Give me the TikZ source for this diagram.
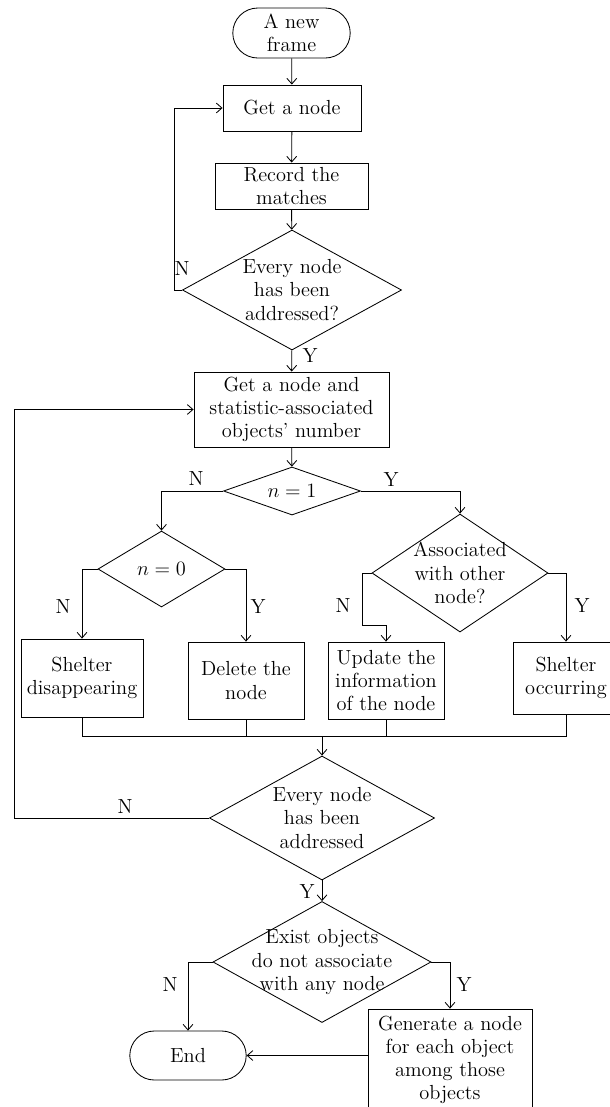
\RequirePackage{fix-cm}
\documentclass[tikz,border=0pt]{standalone}
\usetikzlibrary{shapes.geometric, shapes.misc, arrows.meta}

\begin{document}
\begin{tikzpicture}[
    x=0.025cm, y=-0.025cm,
    >={Straight Barb[length=4pt,width=7pt]},
    line width=0.6pt,
    every node/.style={align=center, font=\fontsize{14.5}{16.5}\selectfont},
    terminal/.style={draw, rounded rectangle, inner sep=2pt},
    caja/.style={draw, rectangle, inner sep=2pt},
    decision/.style={draw, diamond, aspect=1.8, inner sep=-6pt},
    etiqueta/.style={inner sep=0pt}
]
\useasboundingbox (0,0) rectangle (610,1107);

% ---- Parte superior: recorrer los nodos ----
\node[terminal, minimum width=3.075cm, minimum height=1.25cm] (inicio) at (291.5,33) {A new\\frame};
\node[caja, minimum width=3.45cm, minimum height=1.15cm] (tomar) at (292,108) {Get a node};
\node[caja, minimum width=3.825cm, minimum height=1.15cm] (registrar) at (291.5,186) {Record the\\matches};
\node[decision, minimum width=5.475cm, minimum height=3cm] (revisar1) at (292,290) {Every node\\has been\\addressed?};

\draw[->] (inicio) -- (tomar);
\draw[->] (tomar) -- (registrar);
\draw[->] (registrar) -- (revisar1);
\draw[->] (revisar1.west) -- ++(-8,0) |- (tomar.west);
\node[etiqueta] (n1) at (182,269) {N};

% ---- Conteo de objetos asociados ----
\node[caja, minimum width=4.875cm, minimum height=1.875cm] (contar) at (291.5,409.5) {Get a node and\\statistic-associated\\objects' number};
\node[decision, minimum width=3.425cm, minimum height=1.2cm] (esuno) at (292,491) {$n = 1$};
\node[decision, minimum width=3.175cm, minimum height=1.9cm] (escero) at (161.5,569) {$n = 0$};
\node[decision, minimum width=4.4cm, minimum height=2.95cm] (asociado) at (460,573) {Associated\\with other\\node?};

\draw[->] (revisar1) -- (contar);
\node[etiqueta] (y1) at (310,356) {Y};
\draw[->] (contar) -- (esuno);
\draw[->] (esuno.west) -| (escero.north);
\node[etiqueta] (n2) at (196,479) {N};
\draw[->] (esuno.east) -| (asociado.north);
\node[etiqueta] (y2) at (391,480) {Y};

% ---- Cuatro casos ----
\node[caja, minimum width=3.05cm, minimum height=1.95cm] (desaparece) at (82,678) {Shelter\\disappearing};
\node[caja, minimum width=2.9cm, minimum height=1.925cm] (borrar) at (246,680.5) {Delete the\\node};
\node[caja, minimum width=2.9cm, minimum height=1.925cm] (actualizar) at (386,680.5) {Update the\\information\\of the node};
\node[caja, minimum width=2.65cm, minimum height=1.8cm] (aparece) at (566,678) {Shelter\\occurring};

\draw[->] (escero.west) -| (desaparece.north);
\node[etiqueta] (n3) at (63,607) {N};
\draw[->] (escero.east) -| (borrar.north);
\node[etiqueta] (y3) at (258,607) {Y};
\draw[->] (asociado.west) -- ++(-9,0) -- ++(0,52) -| (actualizar.north);
\node[etiqueta] (n4) at (343,606) {N};
\draw[->] (asociado.east) -| (aparece.north);
\node[etiqueta] (y4) at (582,606) {Y};

% ---- Union de las ramas ----
\coordinate (union) at (322,736);
\draw (desaparece.south) |- (union) -| (aparece.south);
\draw (borrar.south) -- (borrar.south |- union);
\draw (actualizar.south) -- (actualizar.south |- union);

\node[decision, minimum width=5.625cm, minimum height=3.1cm] (revisar2) at (322,818) {Every node\\has been\\addressed};
\draw[->] (union) -- (revisar2);
\draw[->] (revisar2.west) -- ++(-195,0) |- (contar.west);
\node[etiqueta] (n5) at (125,807) {N};

% ---- Objetos sin asociar ----
\node[decision, minimum width=5.45cm, minimum height=3.025cm] (existen) at (322,962) {Exist objects\\do not associate\\with any node};
\node[terminal, minimum width=3.05cm, minimum height=1.225cm] (fin) at (188,1055.5) {End};
\node[caja, minimum width=4.1cm, minimum height=2.55cm] (generar) at (450,1060) {Generate a node\\for each object\\among those\\objects};

\draw[->] (revisar2) -- (existen);
\node[etiqueta] (y5) at (307,892) {Y};
\draw[->] (existen.west) -| (fin.north);
\node[etiqueta] (n6) at (170,985) {N};
\draw[->] (existen.east) -| (generar.north);
\node[etiqueta] (y6) at (464,985) {Y};
\draw[->] (generar.west |- fin) -- (fin.east);

\end{tikzpicture}
\end{document}
